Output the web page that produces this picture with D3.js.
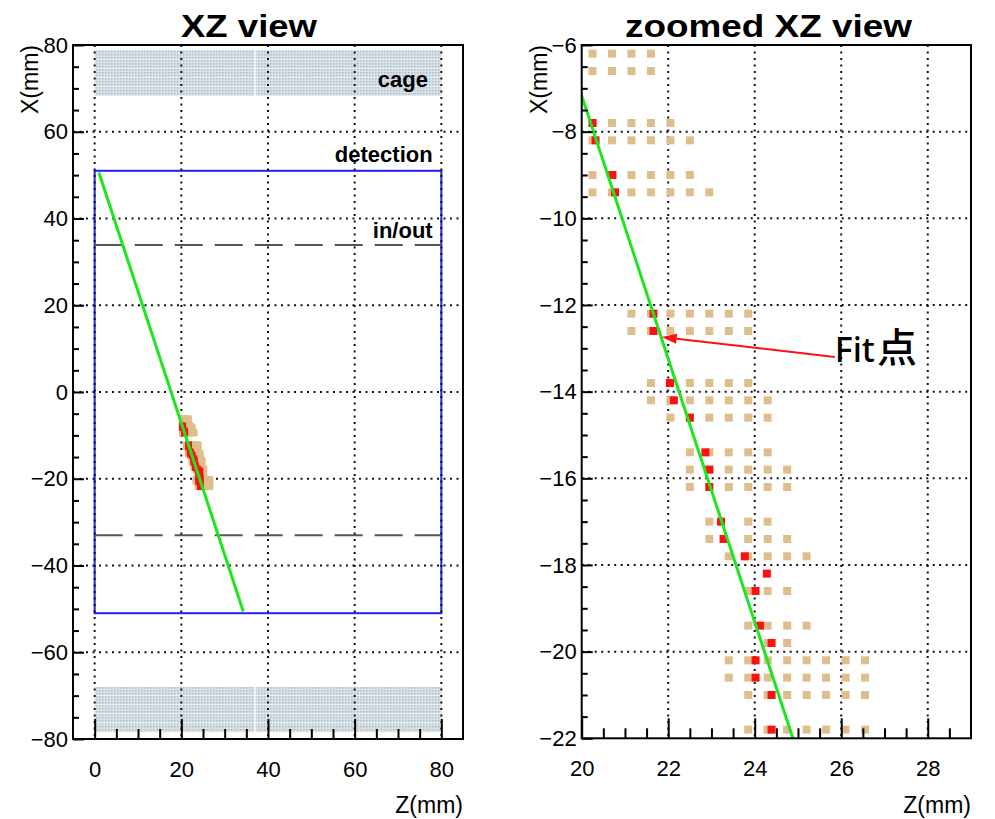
<!DOCTYPE html>
<html>
<head>
<meta charset="utf-8">
<script src="https://cdn.jsdelivr.net/npm/d3@7"></script>
<style>
  body { margin: 0; background: #fff; }
  text { font-family: "Liberation Sans", Arial, sans-serif; }
</style>
</head>
<body>
<svg id="chart" width="995" height="819"></svg>
<script>
// ---- data (mm) ----
const leftZTicks = [0, 20, 40, 60, 80];
const leftXTicks = [-80, -60, -40, -20, 0, 20, 40, 60, 80];
const leftZMinor = [5, 10, 15, 25, 30, 35, 45, 50, 55, 65, 70, 75];
const leftXMinor = [-75, -70, -65, -55, -50, -45, -35, -30, -25, -15, -10, -5,
                    5, 10, 15, 25, 30, 35, 45, 50, 55, 65, 70, 75];
const rightZTicks = [20, 22, 24, 26, 28];
const rightXTicks = [-22, -20, -18, -16, -14, -12, -10, -8, -6];
const rightZMinor = [20.5, 21, 21.5, 22.5, 23, 23.5, 24.5, 25, 25.5, 26.5, 27, 27.5, 28.5];
const rightXMinor = [-21.5, -21, -20.5, -19.5, -19, -18.5, -17.5, -17, -16.5, -15.5, -15, -14.5,
                     -13.5, -13, -12.5, -11.5, -11, -10.5, -9.5, -9, -8.5, -7.5, -7, -6.5];

const cageBands = [[68.3, 78.8], [-78.4, -68.0]];
const cageStripEdges = [70.4, 72.5, 74.6, 76.7, -76.3, -74.2, -72.1, -70.0];
const cageGapZ = 37;
const detectionZ = [0, 80];
const detectionX = [-51, 51];
const inOutX = [33.9, -33.0];
const fitLine = [[0.98, 50.6], [34.3, -50.6]];        // [Z, X]
const fitArrow = [[25.85, -13.2], [21.85, -12.74]];   // tail, tip

// tan pads: [X, list of Z]
const tanRows = [
  [-6.2,  [20.25, 20.70, 21.15, 21.60]],
  [-6.6,  [20.25, 20.70, 21.15, 21.60]],
  [-7.8,  [20.25, 20.70, 21.15, 21.60, 22.05]],
  [-8.2,  [20.25, 20.70, 21.15, 21.60, 22.05, 22.50]],
  [-9.0,  [20.25, 20.70, 21.15, 21.60, 22.05, 22.50]],
  [-9.4,  [20.25, 20.70, 21.15, 21.60, 22.05, 22.50, 22.95]],
  [-12.2, [21.15, 21.60, 22.05, 22.50, 22.95, 23.40, 23.85]],
  [-12.6, [21.15, 21.60, 22.05, 22.50, 22.95, 23.40, 23.85]],
  [-13.8, [21.60, 22.05, 22.50, 22.95, 23.40, 23.85]],
  [-14.2, [21.60, 22.05, 22.50, 22.95, 23.40, 23.85, 24.30]],
  [-14.6, [22.05, 22.50, 22.95, 23.40, 23.85, 24.30]],
  [-15.4, [22.50, 22.95, 23.40, 23.85, 24.30]],
  [-15.8, [22.50, 22.95, 23.40, 23.85, 24.30, 24.75]],
  [-16.2, [22.50, 22.95, 23.40, 23.85, 24.30, 24.75]],
  [-17.0, [22.95, 23.85, 24.30]],
  [-17.4, [22.95, 23.85, 24.30, 24.75]],
  [-17.8, [23.40, 23.85, 24.30, 24.75, 25.20]],
  [-18.6, [23.85, 24.30, 24.75]],
  [-19.4, [23.85, 24.30, 24.75, 25.20]],
  [-19.8, [24.30, 24.75]],
  [-20.2, [23.40, 23.85, 24.30, 24.75, 25.20, 25.65, 26.10, 26.55]],
  [-20.6, [23.40, 23.85, 24.30, 24.75, 25.20, 25.65, 26.10, 26.55]],
  [-21.0, [23.85, 24.30, 24.75, 25.20, 25.65, 26.10, 26.55]],
  [-21.8, [23.85, 24.30, 24.75, 25.20, 25.65, 26.10, 26.55]]
];
// fitted (red) pads: [Z, X]
const redHits = [
  [20.25, -7.8], [20.32, -8.2], [20.71, -9.0], [20.77, -9.4],
  [21.66, -12.2], [21.66, -12.6], [22.04, -13.8], [22.13, -14.2], [22.50, -14.6],
  [22.86, -15.4], [22.95, -15.8], [22.95, -16.2], [23.22, -17.0], [23.28, -17.4],
  [23.77, -17.8], [24.28, -18.2], [24.02, -18.6], [24.12, -19.4], [24.39, -19.8],
  [24.02, -20.2], [24.02, -20.6], [24.39, -21.0], [24.39, -21.8]
];

const tanColor = "#debe8c";
const redColor = "#ff1010";
const fitColor = "#1ee61e";

const svg = d3.select("#chart");
const defs = svg.append("defs");

// cage hatch pattern (fine dots over a flat grey-blue)
const pat = defs.append("pattern").attr("id", "cagePat")
  .attr("width", 3).attr("height", 3).attr("patternUnits", "userSpaceOnUse");
pat.append("rect").attr("width", 1.5).attr("height", 1.5).attr("fill", "#aebdc8");

const fmt = d => d < 0 ? "\u2212" + Math.abs(d) : String(d);
const tanHits = tanRows.flatMap(([xv, zs]) => zs.map(z => [z, xv]));

function makePanel(cfg) {
  const x = d3.scaleLinear().domain(cfg.zDomain).range([cfg.left, cfg.right]);
  const y = d3.scaleLinear().domain(cfg.xDomain).range([cfg.bottom, cfg.top]);
  const g = svg.append("g");
  defs.append("clipPath").attr("id", cfg.id + "-clip")
    .append("rect")
      .attr("x", cfg.left).attr("y", cfg.top)
      .attr("width", cfg.right - cfg.left).attr("height", cfg.bottom - cfg.top);
  const plot = g.append("g").attr("clip-path", `url(#${cfg.id}-clip)`);
  return Object.assign({ x, y, g, plot }, cfg);
}

function drawGrid(p, zVals, xVals) {
  const grid = p.plot.append("g")
    .attr("stroke", "#111").attr("stroke-width", 2).attr("stroke-dasharray", "2,4.5");
  grid.selectAll(null).data(zVals).join("line")
    .attr("x1", d => p.x(d)).attr("x2", d => p.x(d))
    .attr("y1", p.top).attr("y2", p.bottom);
  grid.selectAll(null).data(xVals).join("line")
    .attr("x1", p.left).attr("x2", p.right)
    .attr("y1", d => p.y(d)).attr("y2", d => p.y(d));
}

function drawHits(p, size) {
  p.plot.selectAll(null).data(tanHits).join("rect")
    .attr("x", d => p.x(d[0]) - size / 2).attr("y", d => p.y(d[1]) - size / 2)
    .attr("width", size).attr("height", size).attr("fill", tanColor);
  p.plot.selectAll(null).data(redHits).join("rect")
    .attr("x", d => p.x(d[0]) - size / 2).attr("y", d => p.y(d[1]) - size / 2)
    .attr("width", size).attr("height", size).attr("fill", redColor);
}

function drawFit(p) {
  p.plot.append("path")
    .attr("d", d3.line().x(d => p.x(d[0])).y(d => p.y(d[1]))(fitLine))
    .attr("stroke", fitColor).attr("stroke-width", 3).attr("fill", "none");
}

function drawAxes(p, zMaj, zMin, xMaj, xMin, title, titleLen) {
  p.g.append("rect")
    .attr("x", p.left).attr("y", p.top)
    .attr("width", p.right - p.left).attr("height", p.bottom - p.top)
    .attr("fill", "none").attr("stroke", "#000").attr("stroke-width", 2);

  const styleAxis = a => {
    a.select(".domain").remove();
    a.attr("font-family", "Liberation Sans, Arial, sans-serif").attr("font-size", 22);
    a.selectAll(".tick line").attr("stroke-width", 2);
  };
  p.g.append("g").attr("transform", `translate(0,${p.bottom})`)
    .call(d3.axisBottom(p.x).tickValues(zMaj).tickSize(-20).tickPadding(22).tickFormat(fmt))
    .call(styleAxis);
  p.g.append("g").attr("transform", `translate(0,${p.bottom})`)
    .call(d3.axisBottom(p.x).tickValues(zMin).tickSize(-10).tickFormat(""))
    .call(styleAxis);
  p.g.append("g").attr("transform", `translate(${p.left},0)`)
    .call(d3.axisLeft(p.y).tickValues(xMaj).tickSize(-11).tickPadding(5).tickFormat(fmt))
    .call(styleAxis);
  p.g.append("g").attr("transform", `translate(${p.left},0)`)
    .call(d3.axisLeft(p.y).tickValues(xMin).tickSize(-6).tickFormat(""))
    .call(styleAxis);

  p.g.append("text")
    .attr("transform", `translate(${p.left - 35},${p.top}) rotate(-90)`)
    .attr("text-anchor", "end").attr("font-size", 23).text("X(mm)");
  p.g.append("text")
    .attr("x", p.right).attr("y", 813)
    .attr("text-anchor", "end").attr("font-size", 23).text("Z(mm)");
  p.g.append("text")
    .attr("x", p.titleX).attr("y", 37)
    .attr("font-size", 31).attr("font-weight", "bold")
    .attr("textLength", titleLen).attr("lengthAdjust", "spacingAndGlyphs")
    .text(title);
}

// ---------- left panel ----------
const L = makePanel({ id: "left", zDomain: [-5, 85], xDomain: [-80, 80],
                      left: 73, right: 463, top: 45, bottom: 739, titleX: 181 });

// cage
cageBands.forEach(b => {
  L.plot.append("rect")
    .attr("x", L.x(0)).attr("width", L.x(80) - L.x(0))
    .attr("y", L.y(b[1])).attr("height", L.y(b[0]) - L.y(b[1]))
    .attr("fill", "#d9e1e6");
  L.plot.append("rect")
    .attr("x", L.x(0)).attr("width", L.x(80) - L.x(0))
    .attr("y", L.y(b[1])).attr("height", L.y(b[0]) - L.y(b[1]))
    .attr("fill", "url(#cagePat)");
  L.plot.append("line")
    .attr("x1", L.x(cageGapZ)).attr("x2", L.x(cageGapZ))
    .attr("y1", L.y(b[1])).attr("y2", L.y(b[0]))
    .attr("stroke", "#fff").attr("stroke-width", 1.5).attr("opacity", 0.9);
});
L.plot.selectAll(null).data(cageStripEdges).join("line")
  .attr("x1", L.x(0)).attr("x2", L.x(80))
  .attr("y1", d => L.y(d)).attr("y2", d => L.y(d))
  .attr("stroke", "#fff").attr("stroke-width", 1).attr("opacity", 0.6);

// detection box
L.plot.append("rect")
  .attr("x", L.x(detectionZ[0])).attr("width", L.x(detectionZ[1]) - L.x(detectionZ[0]))
  .attr("y", L.y(detectionX[1])).attr("height", L.y(detectionX[0]) - L.y(detectionX[1]))
  .attr("fill", "none").attr("stroke", "#2222ee").attr("stroke-width", 2);

// in/out lines
L.plot.selectAll(null).data(inOutX).join("line")
  .attr("x1", L.x(0)).attr("x2", L.x(80))
  .attr("y1", d => L.y(d)).attr("y2", d => L.y(d))
  .attr("stroke", "#555").attr("stroke-width", 2).attr("stroke-dasharray", "28,12");

drawGrid(L, leftZTicks, leftXTicks.slice(1, -1));
drawHits(L, 7);
drawFit(L);

L.g.append("text").attr("x", L.x(76.9)).attr("y", L.y(70.3))
  .attr("text-anchor", "end").attr("font-size", 22).attr("font-weight", "bold").text("cage");
L.g.append("text").attr("x", L.x(78)).attr("y", L.y(53))
  .attr("text-anchor", "end").attr("font-size", 22).attr("font-weight", "bold").text("detection");
L.g.append("text").attr("x", L.x(78)).attr("y", L.y(35.5))
  .attr("text-anchor", "end").attr("font-size", 22).attr("font-weight", "bold").text("in/out");

drawAxes(L, leftZTicks, leftZMinor, leftXTicks, leftXMinor, "XZ view", 136);

// ---------- right panel ----------
const R = makePanel({ id: "right", zDomain: [20, 29], xDomain: [-22, -6],
                      left: 581.7, right: 971, top: 45, bottom: 738.3, titleX: 625 });

drawGrid(R, rightZTicks.slice(1), rightXTicks.slice(1, -1));
drawHits(R, 8);
drawFit(R);
drawAxes(R, rightZTicks, rightZMinor, rightXTicks, rightXMinor, "zoomed XZ view", 287);

// arrow pointing at a fit point
const tail = [R.x(fitArrow[0][0]), R.y(fitArrow[0][1])];
const tip = [R.x(fitArrow[1][0]), R.y(fitArrow[1][1])];
const ang = Math.atan2(tip[1] - tail[1], tip[0] - tail[0]);
const headLen = 15, headW = 5;
const base = [tip[0] - headLen * Math.cos(ang), tip[1] - headLen * Math.sin(ang)];
svg.append("line")
  .attr("x1", tail[0]).attr("y1", tail[1]).attr("x2", base[0]).attr("y2", base[1])
  .attr("stroke", redColor).attr("stroke-width", 2);
svg.append("polygon")
  .attr("points", [
    tip,
    [base[0] + headW * Math.sin(ang), base[1] - headW * Math.cos(ang)],
    [base[0] - headW * Math.sin(ang), base[1] + headW * Math.cos(ang)]
  ].map(p => p.join(",")).join(" "))
  .attr("fill", redColor);

const fitLabel = svg.append("text")
  .attr("x", tail[0]).attr("y", tail[1] + 5)
  .style("font-family", "'Noto Sans', 'Noto Sans CJK SC', sans-serif")
  .attr("font-size", 34).attr("font-weight", 500).attr("fill", "#000");
fitLabel.append("tspan").text("Fit");
fitLabel.append("tspan").attr("dx", 2).attr("font-size", 40)
  .style("font-family", "'Noto Sans CJK SC', sans-serif").text("点");
</script>
</body>
</html>
